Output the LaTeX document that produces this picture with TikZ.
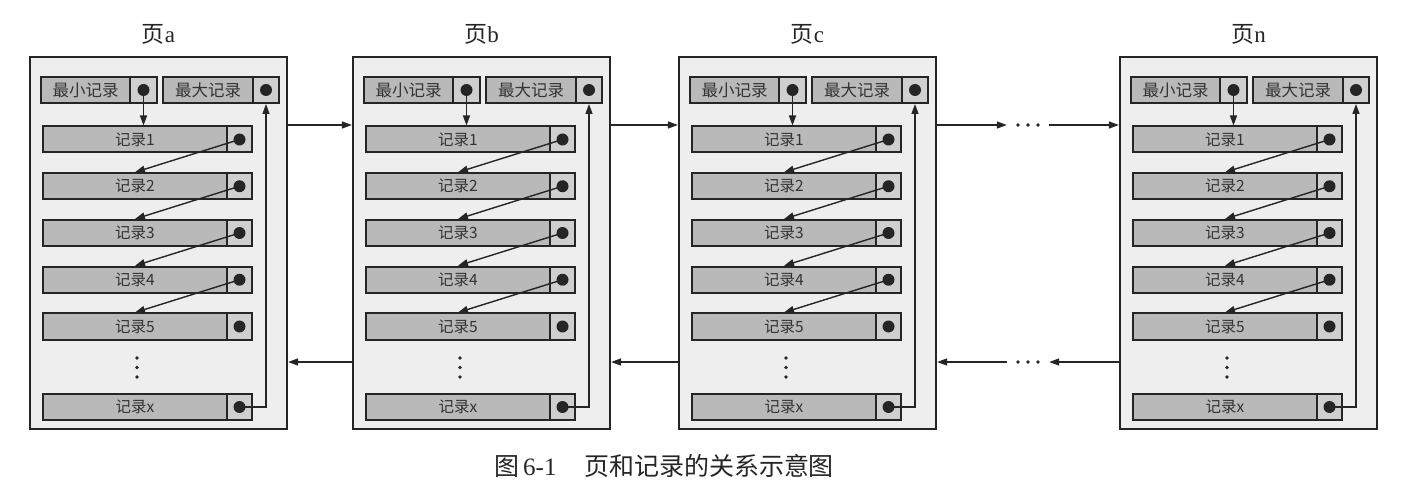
\documentclass[tikz,border=0pt]{standalone}
\usepackage{fontspec}
\setmainfont{Liberation Serif}
\newfontfamily\cjk{Noto Sans CJK SC}
\usetikzlibrary{arrows.meta,calc}
\definecolor{pagebg}{HTML}{EEEEEE}
\definecolor{boxfill}{HTML}{B9B9B9}
\definecolor{cellfill}{HTML}{CFCFCF}
\definecolor{ink}{HTML}{252525}
\tikzset{
 pagebox/.style={draw=ink, line width=2.2pt, fill=pagebg, minimum width=257pt, minimum height=372pt, inner sep=0pt},
 lbl/.style={draw=ink, line width=2pt, fill=boxfill, inner sep=0pt, minimum height=26pt, text=black!80, font=\cjk\fontsize{15.5}{15.5}\selectfont},
 mlbl/.style={lbl, font=\cjk\fontsize{16.5}{16.5}\selectfont},
 cell/.style={draw=ink, line width=2pt, fill=cellfill, inner sep=0pt, minimum height=26pt},
 recdot/.style={circle, fill=ink, inner sep=0pt, minimum size=12pt},
 arr/.style={draw=ink, line width=1.4pt, -{Triangle[length=10pt,width=7pt]}},
 ttl/.style={font=\fontsize{23}{23}\selectfont, text=ink},
 gapnode/.style={inner sep=0pt, minimum width=42pt, minimum height=6pt},
}
\newcommand\onepage[3]{%
\begin{scope}[shift={(#2,0)}]
 \node[pagebox] (#1) at (128.5,243) {};
 \node[ttl] (#1-t) at (128.5,34) {{\cjk 页}#3};
 \node[mlbl, minimum width=89pt] (#1-min) at (55.5,90) {最小记录};
 \node[cell, minimum width=27pt] (#1-minc) at (113.5,90) {};
 \node[mlbl, minimum width=90pt] (#1-max) at (178,90) {最大记录};
 \node[cell, minimum width=26pt] (#1-maxc) at (236,90) {};
 \foreach \i/\yy in {1/139.5,2/186.25,3/233,4/279.75,5/326.5,x/407}{
   \node[lbl, minimum width=184pt] (#1-r\i) at (105,\yy) {记录\i};
   \node[cell, minimum width=25pt] (#1-rc\i) at (209.5,\yy) {};
 }
 \foreach \yy in {358,367.5,377} \fill[ink] (107,\yy) circle (1.8pt);
 \draw[arr] (#1-minc.center) -- (#1-minc.center |- #1-r1.north);
 \foreach \i/\j in {1/2,2/3,3/4,4/5}
   \draw[arr] (#1-rc\i.center) -- (#1-r\j.north);
 \draw[arr] (#1-rcx.center) -| (#1-maxc.south);
 \node[recdot] (#1-dmin) at (#1-minc.center) {};
 \node[recdot] (#1-dmax) at (#1-maxc.center) {};
 \foreach \i in {1,2,3,4,5,x}
   \node[recdot] (#1-d\i) at (#1-rc\i.center) {};
\end{scope}}
\begin{document}
\begin{tikzpicture}[x=1pt, y=-1pt]
\useasboundingbox (0,0) rectangle (1428,497);
\onepage{pa}{30}{a}
\onepage{pb}{353}{b}
\onepage{pc}{679}{c}
\onepage{pn}{1120}{n}
\coordinate (ytop) at (0,125);
\coordinate (ybot) at (0,362);
\draw[arr] (pa.east |- ytop) -- (pb.west |- ytop);
\draw[arr] (pb.east |- ytop) -- (pc.west |- ytop);
\draw[arr] (pb.west |- ybot) -- (pa.east |- ybot);
\draw[arr] (pc.west |- ybot) -- (pb.east |- ybot);
\node[gapnode] (gtop) at (1028,125) {};
\node[gapnode] (gbot) at (1028,362) {};
\foreach \xx in {-10,0,10} {
  \fill[ink] ($(gtop.center)+(\xx,0)$) circle (1.9pt);
  \fill[ink] ($(gbot.center)+(\xx,0)$) circle (1.9pt);
}
\draw[arr] (pc.east |- gtop) -- (gtop.west);
\draw[arr] (gtop.east) -- (pn.west |- gtop);
\draw[arr] (pn.west |- gbot) -- (gbot.east);
\draw[arr] (gbot.west) -- (pc.east |- gbot);
\node[font=\fontsize{25}{25}\selectfont, text=ink] (cap) at (664,466)
  {{\cjk 图}\,6-1\hspace{1.1em}{\cjk 页和记录的关系示意图}};
\end{tikzpicture}
\end{document}
